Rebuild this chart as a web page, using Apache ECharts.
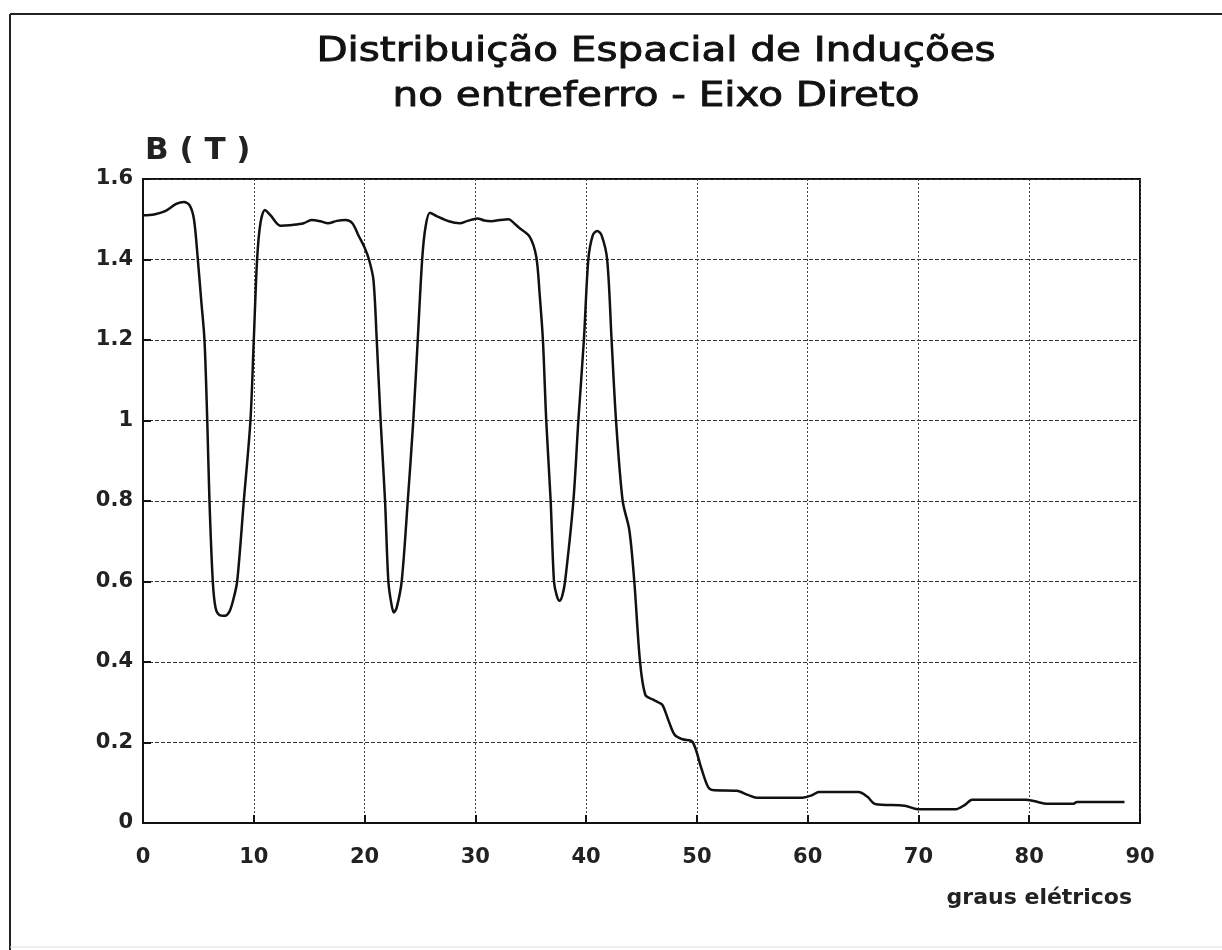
<!DOCTYPE html>
<html>
<head>
<meta charset="utf-8">
<title>Distribuição Espacial de Induções</title>
<script src="https://cdn.jsdelivr.net/npm/echarts@6/dist/echarts.min.js"></script>
<style>
  html, body { margin: 0; padding: 0; background: #fff; }
  #chart { width: 1222px; height: 950px; }
</style>
</head>
<body>
<div id="chart"></div>
<script>
// dados
const titleLines = ['Distribuição Espacial de Induções', 'no entreferro - Eixo Direto'];
const yName = 'B ( T )';
const xName = 'graus elétricos';

// graus elétricos
const angle = [
  0, 1, 2, 3, 3.7, 4.2, 4.6, 4.95, 5.25, 5.55, 5.8, 6.0, 6.3, 6.55, 6.9, 7.4, 7.8, 8.15, 8.5,
  9.1, 9.7, 10.0, 10.3, 10.6, 11.0, 11.5, 12.4, 13.5, 14.5, 15.2, 16.0, 16.7, 17.5, 18.3, 18.9,
  19.5, 20.0, 20.4, 20.8, 21.1, 21.45, 21.85, 22.15, 22.45, 22.65, 22.9, 23.35, 23.9, 24.4, 24.8,
  25.2, 25.5, 25.9, 26.5, 27.6, 28.6, 29.3, 30.2, 30.8, 31.45, 32.2, 33.0, 33.5, 33.9, 34.9,
  35.5, 35.8, 36.1, 36.4, 36.8, 37.1, 37.35, 37.6, 37.85, 38.1, 38.85, 39.3, 39.8, 40.2, 40.6,
  41.0, 41.4, 41.9, 42.3, 42.7, 43.3, 43.9, 44.35, 44.87, 45.35, 46.0, 46.5, 46.9, 47.5, 48.0,
  48.7, 49.6, 50.4, 51.0, 51.4, 53.6, 54.6, 55.4, 59.5, 60.4, 61.0, 64.6, 65.4, 66.1, 68.75,
  69.95, 73.35, 74.2, 74.85, 79.7, 80.5, 81.5, 84.0, 84.3, 88.6
];
// indução B (T)
const induction = [
  1.51, 1.512, 1.52, 1.538, 1.543, 1.535, 1.5, 1.4, 1.3, 1.2, 1.0, 0.8, 0.6, 0.535, 0.517, 0.515, 0.525, 0.555, 0.6,
  0.8, 1.0, 1.2, 1.4, 1.49, 1.523, 1.51, 1.484, 1.486, 1.49, 1.498, 1.495, 1.49, 1.496, 1.498, 1.49,
  1.457, 1.43, 1.4, 1.35, 1.2, 1.0, 0.8, 0.6, 0.54, 0.523, 0.535, 0.6, 0.8, 1.0, 1.2,
  1.4, 1.48, 1.516, 1.508, 1.495, 1.49, 1.496, 1.502, 1.497, 1.495, 1.498, 1.5, 1.49, 1.48, 1.457,
  1.407, 1.316, 1.2, 1.0, 0.8, 0.6, 0.565, 0.552, 0.565, 0.6, 0.8, 1.0, 1.2, 1.4, 1.46,
  1.471, 1.46, 1.4, 1.2, 1.0, 0.8, 0.728, 0.6, 0.4, 0.318, 0.307, 0.3, 0.293, 0.25, 0.219,
  0.208, 0.202, 0.136, 0.09, 0.082, 0.08, 0.07, 0.063, 0.063, 0.069, 0.077, 0.077, 0.065, 0.047, 0.043,
  0.034, 0.034, 0.045, 0.058, 0.058, 0.054, 0.048, 0.048, 0.052, 0.052
];

const chart = echarts.init(document.getElementById('chart'));

const option = {
  backgroundColor: '#fff',
  animation: false,
  graphic: [
    // moldura da página
    { type: 'line', shape: { x1: 10, y1: 14, x2: 1222, y2: 14 }, style: { stroke: '#222', lineWidth: 2 } },
    { type: 'line', shape: { x1: 10, y1: 14, x2: 10, y2: 950 }, style: { stroke: '#222', lineWidth: 2 } },
    { type: 'line', shape: { x1: 10, y1: 947, x2: 1222, y2: 947 }, style: { stroke: '#ddd', lineWidth: 1 } },
    // título
    {
      type: 'text', x: 656, y: 69, scaleX: 1.19,
      style: {
        text: titleLines[0], font: '34px "DejaVu Sans"', fill: '#111',
        stroke: '#111', lineWidth: 0.9, textAlign: 'center', textVerticalAlign: 'bottom'
      }
    },
    {
      type: 'text', x: 656, y: 114, scaleX: 1.19,
      style: {
        text: titleLines[1], font: '34px "DejaVu Sans"', fill: '#111',
        stroke: '#111', lineWidth: 0.9, textAlign: 'center', textVerticalAlign: 'bottom'
      }
    },
    {
      type: 'text', x: 145, y: 166,
      style: { text: yName, font: 'bold 31px "DejaVu Sans"', fill: '#222', textAlign: 'left', textVerticalAlign: 'bottom' }
    },
    {
      type: 'text', x: 1132, y: 909,
      style: { text: xName, font: 'bold 22px "DejaVu Sans"', fill: '#222', textAlign: 'right', textVerticalAlign: 'bottom' }
    }
  ],
  grid: {
    left: 143, right: 82, top: 179, bottom: 127,
    show: true, borderColor: '#111', borderWidth: 2, backgroundColor: 'transparent'
  },
  xAxis: {
    type: 'value', min: 0, max: 90, interval: 10,
    axisLine: { show: true, lineStyle: { color: '#111', width: 2 } },
    axisTick: { show: true, inside: true, length: 8, lineStyle: { color: '#111', width: 2 } },
    axisLabel: { margin: 24, color: '#222', fontSize: 21, fontWeight: 'bold', fontFamily: 'DejaVu Sans' },
    splitLine: { show: true, lineStyle: { color: '#444', width: 1, type: [2, 2] } }
  },
  yAxis: {
    type: 'value', min: 0, max: 1.6, interval: 0.2,
    axisLine: { show: true, lineStyle: { color: '#111', width: 2 } },
    axisTick: { show: true, inside: true, length: 8, lineStyle: { color: '#111', width: 2 } },
    axisLabel: {
      margin: 10, color: '#222', fontSize: 21, fontWeight: 'bold', fontFamily: 'DejaVu Sans',
      formatter: v => String(+v.toFixed(1))
    },
    splitLine: { show: true, lineStyle: { color: '#333', width: 1.2, type: [4, 2] } }
  },
  series: [{
    type: 'line',
    data: angle.map((a, i) => [a, induction[i]]),
    showSymbol: false,
    smooth: 0.3,
    lineStyle: { color: '#111', width: 2.5 }
  }]
};

chart.setOption(option);
</script>
</body>
</html>
